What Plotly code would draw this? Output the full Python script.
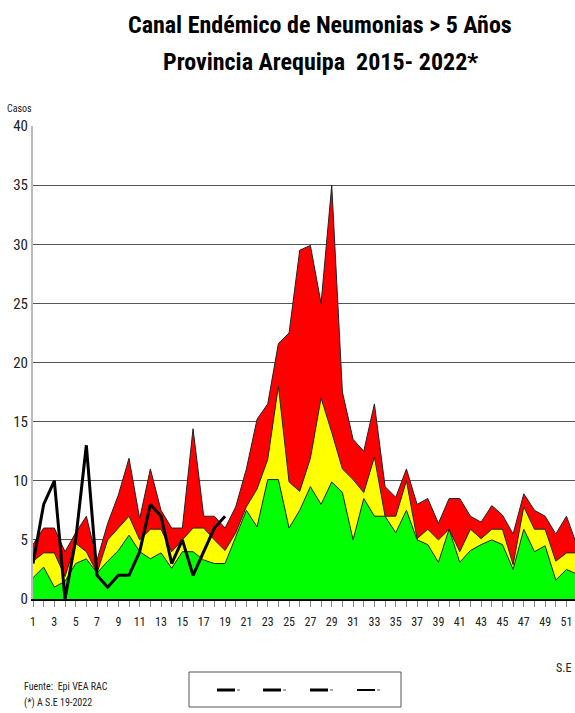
import plotly.graph_objects as go

# ---- data ----
weeks = list(range(1, 53))
green = [1.8, 2.7, 1.0, 1.5, 3.0, 3.4, 2.2, 3.2, 4.1, 5.4,
         4.0, 3.4, 3.9, 2.6, 4.0, 4.0, 3.3, 3.0, 3.0, 5.3,
         7.5, 6.1, 10.1, 10.1, 6.0, 7.5, 9.5, 8.0, 9.9, 9.0,
         5.0, 8.5, 7.0, 7.0, 5.6, 7.5, 5.0, 4.6, 3.1, 5.9,
         3.1, 4.1, 4.6, 5.0, 4.6, 2.5, 5.9, 4.0, 4.5, 1.6,
         2.5, 2.1]
yellow = [3.2, 3.9, 3.9, 1.9, 4.7, 4.0, 2.2, 5.0, 6.0, 7.0,
          5.0, 5.9, 5.9, 4.0, 5.0, 6.0, 6.0, 5.0, 4.1, 5.6,
          7.8, 9.3, 11.8, 18.0, 9.9, 9.1, 11.9, 17.0, 14.1, 11.0,
          10.1, 9.0, 12.0, 7.0, 7.0, 10.0, 5.1, 5.9, 5.0, 5.9,
          4.0, 5.9, 5.1, 5.9, 5.9, 2.9, 7.8, 5.9, 5.9, 3.2,
          3.9, 3.9]
red = [4.6, 6.0, 6.0, 4.0, 5.6, 7.0, 3.3, 6.4, 8.8, 11.9,
       6.8, 11.0, 7.5, 6.0, 6.0, 14.4, 7.0, 7.0, 6.0, 7.8,
       11.0, 15.2, 16.5, 21.6, 22.5, 29.5, 29.9, 25.0, 35.0, 17.5,
       13.5, 12.5, 16.5, 9.5, 8.6, 11.0, 8.0, 8.5, 6.4, 8.5,
       8.5, 7.0, 6.5, 7.9, 7.1, 5.5, 8.9, 7.5, 7.0, 5.5,
       7.0, 4.5]
weeks_2022 = list(range(1, 20))
cases_2022 = [3, 8, 10, 0, 5, 13, 2, 1, 2, 2, 4, 8, 7, 3, 5, 2, 4, 6, 7]
x_ticks = list(range(1, 52, 2))
y_ticks = list(range(0, 41, 5))

FONT = "Roboto Condensed, Liberation Sans Narrow, Arial Narrow, sans-serif"
W, H = 575, 713
ML, MR, MT, MB = 33, 0, 126, 114

fig = go.Figure()
for vals, col in [(red, "#ff0000"), (yellow, "#ffff00"), (green, "#00ff00")]:
    fig.add_trace(go.Scatter(x=weeks, y=vals, mode="lines", fill="tozeroy",
                             fillcolor=col, line=dict(color="#222222", width=1),
                             showlegend=False, hoverinfo="skip"))
fig.add_trace(go.Scatter(x=weeks_2022, y=cases_2022, mode="lines",
                         line=dict(color="black", width=3), showlegend=False))

pw = W - ML - MR
ph = H - MT - MB
def px(x):
    return (x - ML) / pw
def py(y):
    return (H - MB - y) / ph

shapes = [dict(type="rect", xref="paper", yref="paper",
               x0=px(189), x1=px(401), y0=py(707), y1=py(672),
               line=dict(color="#555555", width=1))]
for x0, lw in [(217, 3), (263, 3), (310, 3), (357, 2)]:
    shapes.append(dict(type="line", xref="paper", yref="paper",
                       x0=px(x0), x1=px(x0 + 18), y0=py(690), y1=py(690),
                       line=dict(color="black", width=lw)))
    shapes.append(dict(type="line", xref="paper", yref="paper",
                       x0=px(x0 + 20), x1=px(x0 + 23), y0=py(690), y1=py(690),
                       line=dict(color="#555555", width=1)))

ann = [
    dict(text="<b>Canal Endémico de Neumonias > 5 Años</b>", x=px(320), y=py(25),
         font=dict(size=24, family=FONT, color="black")),
    dict(text="<b>Provincia Arequipa  2015- 2022*</b>", x=px(320), y=py(62),
         font=dict(size=24, family=FONT, color="black")),
    dict(text="Casos", x=px(19), y=py(108), font=dict(size=10, family=FONT, color="#222")),
    dict(text="S.E", x=px(563), y=py(668), font=dict(size=12, family=FONT, color="#222")),
    dict(text="Fuente:  Epi VEA RAC", x=px(22), y=py(686), xanchor="left",
         font=dict(size=10, family=FONT, color="#222")),
    dict(text="(*) A S.E 19-2022", x=px(22), y=py(703), xanchor="left",
         font=dict(size=10, family=FONT, color="#222")),
]
for a in ann:
    a.setdefault("xanchor", "center")
    a.update(xref="paper", yref="paper", yanchor="middle", showarrow=False)

fig.update_layout(
    width=W, height=H, margin=dict(l=ML, r=MR, t=MT, b=MB),
    paper_bgcolor="white", plot_bgcolor="white",
    showlegend=False, shapes=shapes, annotations=ann,
    xaxis=dict(range=[1, 51.8], tickvals=x_ticks, ticks="outside", ticklen=6,
               tickcolor="#888", showgrid=False, zeroline=False,
               showline=True, linecolor="black", linewidth=2,
               ticklabelstandoff=5,
               tickfont=dict(size=12, family=FONT, color="#222"),
               minor=dict(dtick=1, tick0=1, ticks="outside", ticklen=6, tickcolor="#888")),
    yaxis=dict(range=[0, 40], tickvals=y_ticks, showgrid=True, gridcolor="#555",
               gridwidth=1, zeroline=False, showline=True, linecolor="#bbb",
               linewidth=2, ticks="", tickfont=dict(size=15, family=FONT, color="#222")),
)
fig.write_html("out.html", config={"displayModeBar": False},
               post_script="document.body.style.margin='0';")
